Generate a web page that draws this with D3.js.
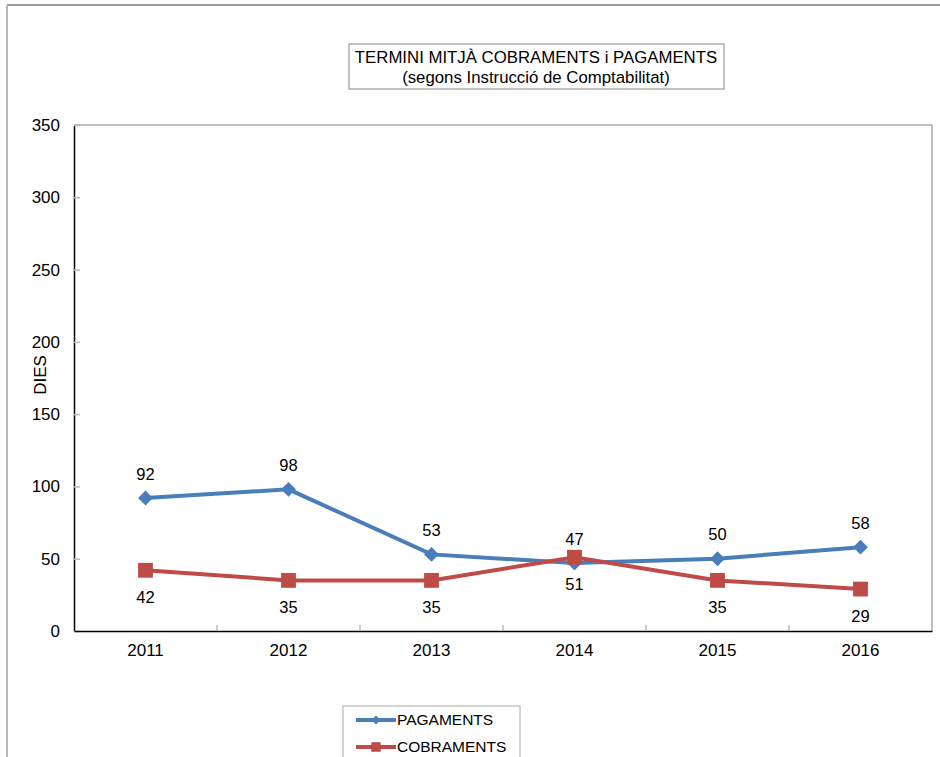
<!DOCTYPE html>
<html>
<head>
<meta charset="utf-8">
<script src="https://cdn.jsdelivr.net/npm/d3@7"></script>
<style>
  body { margin: 0; background: #fff; }
  #chart { width: 940px; height: 757px; }
  text { font-family: "Liberation Sans", Arial, sans-serif; fill: #000; }
</style>
</head>
<body>
<div id="chart"></div>
<script>
const years = ['2011', '2012', '2013', '2014', '2015', '2016']
const pagaments = [92, 98, 53, 47, 50, 58]
const cobraments = [42, 35, 35, 51, 35, 29]
const yTicks = [0, 50, 100, 150, 200, 250, 300, 350]

const width = 940
const height = 757
const margin = { top: 125, right: 8, bottom: 126, left: 74 }
const boundWidth = width - margin.left - margin.right
const boundHeight = height - margin.top - margin.bottom

const svg = d3
  .select('#chart')
  .append('svg')
  .attr('width', width)
  .attr('height', height)

// outer chart frame
svg.append('line').attr('x1', 7).attr('x2', width).attr('y1', 5).attr('y2', 5)
  .attr('stroke', '#999').attr('stroke-width', 2)
svg.append('line').attr('x1', 7).attr('x2', 7).attr('y1', 5).attr('y2', height)
  .attr('stroke', '#bbb').attr('stroke-width', 2)

const x = d3.scaleBand().domain(years).range([0, boundWidth])
const y = d3.scaleLinear().domain([0, 350]).range([boundHeight, 0])

const bounds = svg
  .append('g')
  .attr('transform', `translate(${margin.left}, ${margin.top})`)

// plot area border (top / right)
bounds.append('path')
  .attr('d', `M0,0H${boundWidth}V${boundHeight}`)
  .attr('fill', 'none')
  .attr('stroke', '#aaa')
  .attr('stroke-width', 1.5)

// y axis
const yAxis = bounds.append('g')
  .call(d3.axisLeft(y).tickValues(yTicks).tickSize(0).tickPadding(14))
yAxis.select('.domain').attr('stroke', '#000').attr('stroke-width', 1.5)
yAxis.selectAll('.tick text').attr('font-size', 17).attr('font-family', '"Liberation Sans", Arial, sans-serif')
yAxis.selectAll('.tick').append('line')
  .attr('x1', 0).attr('x2', 6)
  .attr('stroke', '#bbb').attr('stroke-width', 1.5)

// x axis
const xAxis = bounds.append('g')
  .attr('transform', `translate(0, ${boundHeight})`)
  .call(d3.axisBottom(x).tickSize(0).tickPadding(13))
xAxis.select('.domain').attr('stroke', '#000').attr('stroke-width', 1.5)
xAxis.selectAll('.tick text').attr('font-size', 17).attr('font-family', '"Liberation Sans", Arial, sans-serif')
xAxis.selectAll('.sep')
  .data(years.slice(1))
  .join('line')
  .attr('x1', (d) => x(d)).attr('x2', (d) => x(d))
  .attr('y1', 0).attr('y2', -6)
  .attr('stroke', '#bbb').attr('stroke-width', 1.5)

// y axis title
svg.append('text')
  .attr('transform', `translate(46, ${margin.top + boundHeight / 2 - 3}) rotate(-90)`)
  .attr('text-anchor', 'middle')
  .attr('font-size', 17)
  .text('DIES')

const cx = (i) => x(years[i]) + x.bandwidth() / 2
const line = d3.line().x((d, i) => cx(i)).y((d) => y(d))

// diamond = square turned 45 degrees, as in the spreadsheet marker
const series = [
  { name: 'PAGAMENTS', values: pagaments, color: '#4A7EBB', rotate: 45, size: 110, legendSize: 40, dy: -24 },
  { name: 'COBRAMENTS', values: cobraments, color: '#BE4B48', rotate: 0, size: 220, legendSize: 90, dy: 27 }
]

series.forEach((s) => {
  bounds.append('path')
    .datum(s.values)
    .attr('d', line)
    .attr('fill', 'none')
    .attr('stroke', s.color)
    .attr('stroke-width', 4)
})

series.forEach((s) => {
  bounds.append('g')
    .selectAll('path')
    .data(s.values)
    .join('path')
    .attr('transform', (d, i) => `translate(${cx(i)}, ${y(d)}) rotate(${s.rotate})`)
    .attr('d', d3.symbol().type(d3.symbolSquare).size(s.size))
    .attr('fill', s.color)
})

series.forEach((s) => {
  bounds.append('g')
    .selectAll('text')
    .data(s.values)
    .join('text')
    .attr('x', (d, i) => cx(i))
    .attr('y', (d) => y(d) + s.dy)
    .attr('dy', '0.35em')
    .attr('text-anchor', 'middle')
    .attr('font-size', 16.5)
    .text((d) => d)
})

// title box
const title = svg.append('g')
title.append('rect')
  .attr('x', 349).attr('y', 44).attr('width', 375).attr('height', 45)
  .attr('fill', '#fff').attr('stroke', '#888').attr('stroke-width', 1)
title.append('text')
  .attr('x', 536).attr('y', 63)
  .attr('text-anchor', 'middle').attr('font-size', 16.8)
  .text('TERMINI MITJÀ COBRAMENTS i PAGAMENTS')
title.append('text')
  .attr('x', 536).attr('y', 83)
  .attr('text-anchor', 'middle').attr('font-size', 16.8)
  .text('(segons Instrucció de Comptabilitat)')

// legend
const legend = svg.append('g').attr('transform', 'translate(343, 706)')
legend.append('rect')
  .attr('width', 177).attr('height', 60)
  .attr('fill', '#fff').attr('stroke', '#aaa').attr('stroke-width', 1)
series.forEach((s, i) => {
  const g = legend.append('g').attr('transform', `translate(0, ${14 + i * 27})`)
  g.append('line')
    .attr('x1', 13).attr('x2', 53)
    .attr('stroke', s.color).attr('stroke-width', 4)
  g.append('path')
    .attr('transform', `translate(33, 0) rotate(${s.rotate})`)
    .attr('d', d3.symbol().type(d3.symbolSquare).size(s.legendSize))
    .attr('fill', s.color)
  g.append('text')
    .attr('x', 54).attr('dy', '0.35em')
    .attr('font-size', 15.5)
    .text(s.name)
})
</script>
</body>
</html>
